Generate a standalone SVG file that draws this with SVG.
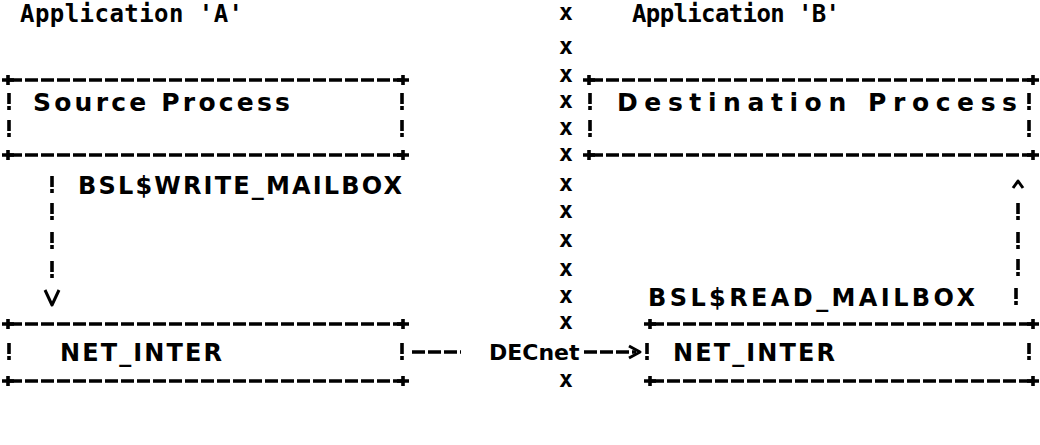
<svg xmlns="http://www.w3.org/2000/svg" xmlns:xlink="http://www.w3.org/1999/xlink" width="1040" height="445" viewBox="0 0 1040 445">
<style>
text{font-family:"DejaVu Sans","Liberation Sans",sans-serif;font-weight:bold;fill:#000;font-size:24px}
.big{font-size:25px}
.hd{font-family:"DejaVu Sans Mono","Liberation Mono",monospace;font-size:24px}
.dn{font-size:22px}
.hb{fill:none;stroke:#000;stroke-width:3.6;stroke-dasharray:13 3}
.pl,.bg,.ah{fill:none;stroke:#000;stroke-width:3.6}
.ah{stroke-width:3;stroke-linejoin:round}
.vx{text-anchor:middle;font-size:23px;font-family:"DejaVu Sans Mono",monospace}
</style>
<defs>
<path id="plus" class="pl" d="M-6,0 H6 M0,-5 V5"/>
<path id="bang" class="bg" d="M0,-9 V2 M0,4 V8"/>
</defs>
<rect width="1040" height="445" fill="#fff"/>

<g id="appA"><text class="hd" x="20" y="22" textLength="223" lengthAdjust="spacing">Application 'A'</text></g>
<g id="appB"><text class="hd" x="632" y="22" textLength="208" lengthAdjust="spacing">Application 'B'</text></g>

<g id="source">
<path class="hb" d="M9,80 H402 M9,155 H402"/>
<use xlink:href="#plus" x="8" y="80"/><use xlink:href="#plus" x="403" y="80"/>
<use xlink:href="#plus" x="8" y="155"/><use xlink:href="#plus" x="403" y="155"/>
<use xlink:href="#bang" x="9" y="102"/><use xlink:href="#bang" x="402" y="102"/>
<use xlink:href="#bang" x="9" y="129"/><use xlink:href="#bang" x="402" y="129"/>
<text class="big" x="33" y="111" textLength="257" lengthAdjust="spacing">Source Process</text>
</g>

<g id="dest">
<path class="hb" d="M590,80 H1032 M590,155 H1032"/>
<use xlink:href="#plus" x="589" y="80"/><use xlink:href="#plus" x="1033" y="80"/>
<use xlink:href="#plus" x="589" y="155"/><use xlink:href="#plus" x="1033" y="155"/>
<use xlink:href="#bang" x="590" y="102"/><use xlink:href="#bang" x="1029" y="102"/>
<use xlink:href="#bang" x="590" y="129"/><use xlink:href="#bang" x="1029" y="129"/>
<text class="big" x="617" y="111" textLength="400" lengthAdjust="spacing">Destination Process</text>
</g>

<g id="netA">
<path class="hb" d="M9,324 H402 M9,381 H402"/>
<use xlink:href="#plus" x="8" y="324"/><use xlink:href="#plus" x="403" y="324"/>
<use xlink:href="#plus" x="8" y="381"/><use xlink:href="#plus" x="403" y="381"/>
<use xlink:href="#bang" x="9" y="352"/><use xlink:href="#bang" x="402" y="352"/>
<text x="60" y="361" textLength="162" lengthAdjust="spacing">NET_INTER</text>
</g>

<g id="netB">
<path class="hb" d="M651,324 H1032 M651,381 H1032"/>
<use xlink:href="#plus" x="650" y="324"/><use xlink:href="#plus" x="1033" y="324"/>
<use xlink:href="#plus" x="650" y="381"/><use xlink:href="#plus" x="1033" y="381"/>
<use xlink:href="#bang" x="647" y="352"/><use xlink:href="#bang" x="1029" y="352"/>
<text x="673" y="361" textLength="162" lengthAdjust="spacing">NET_INTER</text>
</g>

<g id="divider">
<text class="vx" x="566" y="20">x</text>
<text class="vx" x="566" y="54">x</text>
<text class="vx" x="566" y="82">x</text>
<text class="vx" x="566" y="108">x</text>
<text class="vx" x="566" y="135">x</text>
<text class="vx" x="566" y="161">x</text>
<text class="vx" x="566" y="191">x</text>
<text class="vx" x="566" y="218">x</text>
<text class="vx" x="566" y="247">x</text>
<text class="vx" x="566" y="276">x</text>
<text class="vx" x="566" y="303">x</text>
<text class="vx" x="566" y="329">x</text>
<text class="vx" x="566" y="387">x</text>
</g>

<g id="connectors">
<g id="write">
<use xlink:href="#bang" x="52" y="185"/><use xlink:href="#bang" x="52" y="212"/>
<use xlink:href="#bang" x="52" y="241"/><use xlink:href="#bang" x="52" y="270"/>
<path class="ah" d="M45,290 L52,305 L59,290"/>
<text x="78" y="194" textLength="324" lengthAdjust="spacing">BSL$WRITE_MAILBOX</text>
</g>
<g id="read">
<path class="ah" d="M1013,188 L1018,181 L1023,188"/>
<use xlink:href="#bang" x="1018" y="212"/><use xlink:href="#bang" x="1018" y="241"/>
<use xlink:href="#bang" x="1018" y="268"/><use xlink:href="#bang" x="1016" y="297"/>
<text x="648" y="306" textLength="327" lengthAdjust="spacing">BSL$READ_MAILBOX</text>
</g>
<g id="decnet">
<path class="hb" d="M412,352 H461"/>
<text class="dn" x="489" y="360">DECnet</text>
<path class="hb" d="M584,352 H636"/>
<path class="ah" d="M629,346 L640,352 L629,358"/>
</g>
</g>
</svg>
